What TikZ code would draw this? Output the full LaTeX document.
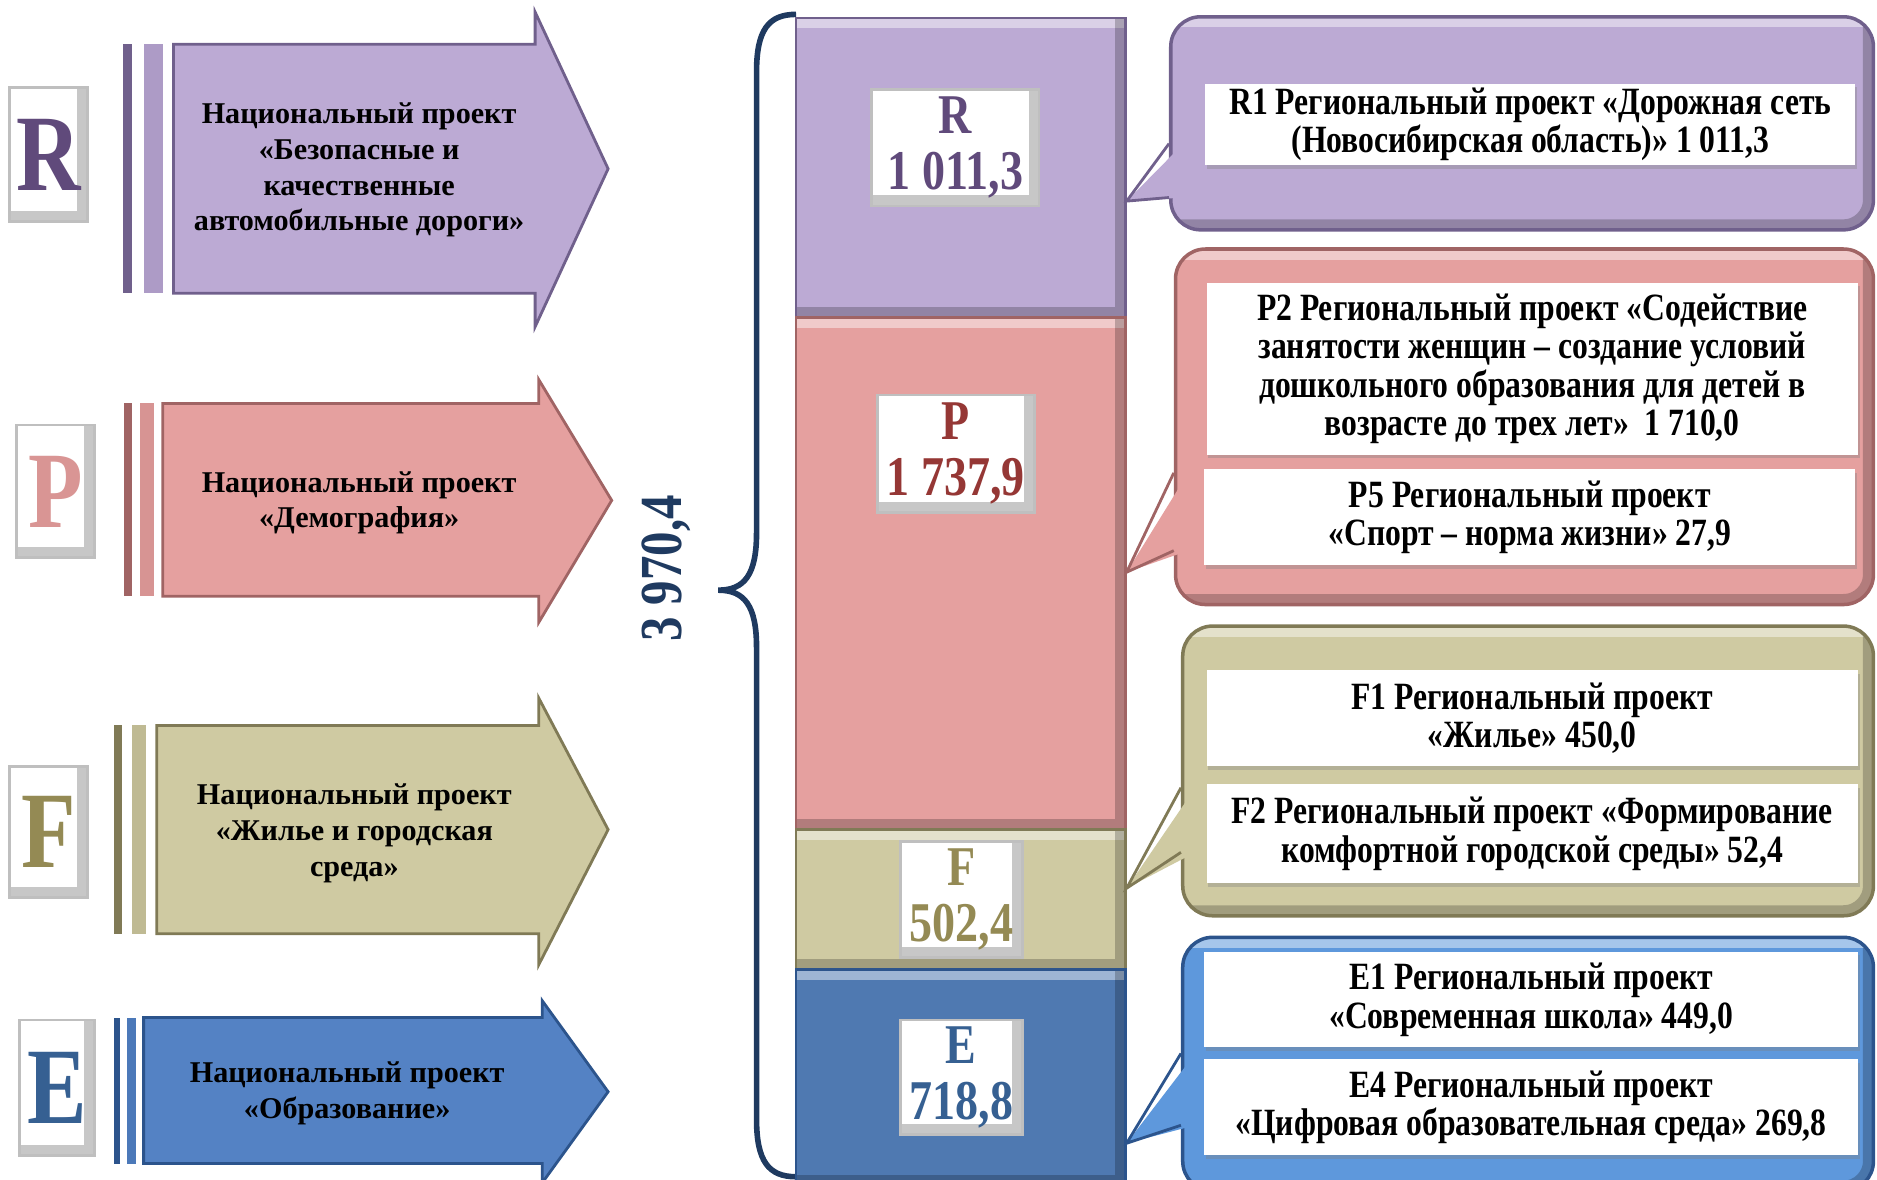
\documentclass[tikz,border=0pt]{standalone}
\usepackage{fontspec}
\setmainfont{Liberation Serif}
\newfontfamily\narrowfont{Liberation Serif}[FakeStretch=0.82]
\usepackage{tikz}
\usetikzlibrary{positioning,fit,shadows,calc}
\definecolor{RFill}{RGB}{188,170,212}
\definecolor{RDark}{RGB}{112,96,140}
\definecolor{RText}{RGB}{96,74,123}
\definecolor{PFill}{RGB}{229,160,159}
\definecolor{PDark}{RGB}{160,100,100}
\definecolor{PText}{RGB}{149,55,53}
\definecolor{PLetter}{RGB}{217,149,148}
\definecolor{FFill}{RGB}{207,202,162}
\definecolor{FDark}{RGB}{128,122,86}
\definecolor{FText}{RGB}{148,138,84}
\definecolor{EFill}{RGB}{84,130,196}
\definecolor{EBar}{RGB}{79,121,177}
\definecolor{ECall}{RGB}{94,152,220}
\definecolor{EDark}{RGB}{44,84,140}
\definecolor{EText}{RGB}{54,96,146}
\definecolor{BraceBlue}{RGB}{31,58,96}

\begin{document}
\begin{tikzpicture}[x=0.012cm, y=-0.012cm,
    bevel/.style={path picture={
        \draw[white, draw opacity=0.45, line width=6pt]
            (path picture bounding box.north west) -- (path picture bounding box.north east);
        \draw[black, draw opacity=0.22, line width=6pt]
            (path picture bounding box.south west) -- (path picture bounding box.south east)
            -- (path picture bounding box.north east);}},
    letterbox/.style={draw=gray!50, fill=white, line width=0.8pt, inner sep=0pt, bevel},
    letter/.style={font=\narrowfont\bfseries\fontsize{31}{31}\selectfont},
    arrowtext/.style={align=center, font=\bfseries\fontsize{8.6}{10.2}\selectfont},
    barpart/.style={line width=0.8pt, inner sep=0pt, bevel},
    barlabel/.style={draw=gray!50, fill=white, line width=0.8pt, inner sep=0pt, bevel},
    bartext/.style={align=center, font=\narrowfont\bfseries\fontsize{16}{16}\selectfont},
    callout/.style={rounded corners=0.3cm, line width=1pt, inner sep=0pt, bevel},
    infobox/.style={fill=white, inner sep=0pt,
                    drop shadow={shadow xshift=0.5pt, shadow yshift=-1pt, opacity=0.35}},
    infotext/.style={align=center, font=\narrowfont\bfseries\fontsize{11}{11}\selectfont},
    pointer/.style={line width=0.8pt}
]
    \useasboundingbox (0,0) rectangle (1568,985);

    % left column: national projects
    \node[letterbox, fit={(8,73) (73,185)}] (rletter) {};
    \node[letter, text=RText] at (rletter) {R};
    \fill[RDark] (103,37) rectangle (110,245);
    \fill[RFill!80!RDark] (120,37) rectangle (136,245);
    \draw[RDark, fill=RFill, line width=0.8pt] (145,37) -- (447,37) -- (447,10) -- (508,141)
        -- (447,273) -- (447,245) -- (145,245) -- cycle;
    \node[arrowtext] (rnat) at (300,142) {Национальный проект\\«Безопасные и\\качественные\\автомобильные дороги»};

    \node[letterbox, fit={(14,355) (79,466)}] (pletter) {};
    \node[letter, text=PLetter] at (pletter) {P};
    \fill[PDark] (104,337) rectangle (110,498);
    \fill[PFill!80!PDark] (117,337) rectangle (129,498);
    \draw[PDark, fill=PFill, line width=0.8pt] (136,337) -- (450,337) -- (450,317) -- (511,418)
        -- (450,520) -- (450,498) -- (136,498) -- cycle;
    \node[arrowtext] (pnat) at (300,420) {Национальный проект\\«Демография»};

    \node[letterbox, fit={(8,640) (73,750)}] (fletter) {};
    \node[letter, text=FText] at (fletter) {F};
    \fill[FDark] (95,606) rectangle (102,780);
    \fill[FFill!80!FDark] (110,606) rectangle (122,780);
    \draw[FDark, fill=FFill, line width=0.8pt] (131,606) -- (450,606) -- (450,583) -- (508,693)
        -- (450,806) -- (450,780) -- (131,780) -- cycle;
    \node[arrowtext] (fnat) at (296,696) {Национальный проект\\«Жилье и городская\\среда»};

    \node[letterbox, fit={(16,852) (79,965)}] (eletter) {};
    \node[letter, text=EText] at (eletter) {E};
    \fill[EDark] (95,850) rectangle (100,972);
    \fill[EFill!80!EDark] (106,850) rectangle (114,972);
    \draw[EDark, fill=EFill, line width=0.8pt] (120,850) -- (453,850) -- (453,836) -- (508,912)
        -- (453,988) -- (453,972) -- (120,972) -- cycle;
    \node[arrowtext] (enat) at (290,913) {Национальный проект\\«Образование»};

    % total and brace
    \draw[BraceBlue, line width=1.6pt] (665,12) .. controls (642,12) and (632,25) .. (632,60)
        -- (632,445) .. controls (632,480) and (622,493) .. (600,493)
        .. controls (622,493) and (632,506) .. (632,541)
        -- (632,935) .. controls (632,970) and (642,983) .. (665,983);
    \node[rotate=90, text=BraceBlue, font=\narrowfont\bfseries\fontsize{17}{17}\selectfont] (total) at (557,475) {3 970,4};

    % stacked bar
    \node[barpart, fill=RFill, draw=RDark, fit={(665,15) (940,265)}] (barR) {};
    \node[barpart, fill=PFill, draw=PDark, fit={(665,265) (940,693)}] (barP) {};
    \node[barpart, fill=FFill, draw=FDark, fit={(665,693) (940,810)}] (barF) {};
    \node[barpart, fill=EBar, draw=EDark, fit={(665,810) (940,990)}] (barE) {};

    \node[barlabel, fit={(728,75) (868,172)}] (rsum) {};
    \node[bartext, text=RText] at (rsum) {R\\1 011,3};
    \node[barlabel, fit={(733,330) (864,428)}] (psum) {};
    \node[bartext, text=PText] at (psum) {P\\1 737,9};
    \node[barlabel, fit={(752,703) (854,800)}] (fsum) {};
    \node[bartext, text=FText] at (fsum) {F\\502,4};
    \node[barlabel, fit={(752,852) (854,948)}] (esum) {};
    \node[bartext, text=EText] at (esum) {E\\718,8};

    % right column: regional projects
    \node[callout, fill=RFill, draw=RDark, fit={(978,14) (1565,192)}] (rcall) {};
    \node[callout, fill=PFill, draw=PDark, fit={(982,208) (1565,505)}] (pcall) {};
    \node[callout, fill=FFill, draw=FDark, fit={(988,523) (1565,765)}] (fcall) {};
    \node[callout, fill=ECall, draw=EDark, fit={(988,783) (1565,995)}] (ecall) {};

    \coordinate (rtip) at (barR.east |- 0,168);
    \coordinate (ptip) at (barP.east |- 0,478);
    \coordinate (ftip) at (barF.east |- 0,742);
    \coordinate (etip) at (barE.east |- 0,955);

    \fill[RFill] ($(rcall.west |- 0,120)+(12,0)$) -- (rtip) -- ($(rcall.west |- 0,165)+(12,0)$) -- cycle;
    \draw[RDark, pointer] (rcall.west |- 0,120) -- (rtip) -- (rcall.west |- 0,165);
    \fill[PFill] ($(pcall.west |- 0,395)+(12,0)$) -- (ptip) -- ($(pcall.west |- 0,460)+(12,0)$) -- cycle;
    \draw[PDark, pointer] (pcall.west |- 0,395) -- (ptip) -- (pcall.west |- 0,460);
    \fill[FFill] ($(fcall.west |- 0,658)+(12,0)$) -- (ftip) -- ($(fcall.west |- 0,712)+(12,0)$) -- cycle;
    \draw[FDark, pointer] (fcall.west |- 0,658) -- (ftip) -- (fcall.west |- 0,712);
    \fill[ECall] ($(ecall.west |- 0,880)+(12,0)$) -- (etip) -- ($(ecall.west |- 0,940)+(12,0)$) -- cycle;
    \draw[EDark, pointer] (ecall.west |- 0,880) -- (etip) -- (ecall.west |- 0,940);

    \node[infobox, fit={(1007,70) (1550,138)}] (r1) {};
    \node[infotext] at (r1) {R1 Региональный проект «Дорожная сеть\\(Новосибирская область)» 1 011,3};
    \node[infobox, fit={(1008,236) (1552,380)}] (p2) {};
    \node[infotext] at (p2) {P2 Региональный проект «Содействие\\занятости женщин – создание условий\\дошкольного образования для детей в\\возрасте до трех лет»~~1 710,0};
    \node[infobox, fit={(1006,392) (1550,472)}] (p5) {};
    \node[infotext] at (p5) {P5 Региональный проект\\«Спорт – норма жизни» 27,9};
    \node[infobox, fit={(1008,560) (1552,640)}] (f1) {};
    \node[infotext] at (f1) {F1 Региональный проект\\«Жилье» 450,0};
    \node[infobox, fit={(1008,655) (1552,738)}] (f2) {};
    \node[infotext] at (f2) {F2 Региональный проект «Формирование\\комфортной городской среды» 52,4};
    \node[infobox, fit={(1006,795) (1552,875)}] (e1) {};
    \node[infotext] at (e1) {E1 Региональный проект\\«Современная школа» 449,0};
    \node[infobox, fit={(1006,885) (1552,965)}] (e4) {};
    \node[infotext] at (e4) {E4 Региональный проект\\«Цифровая образовательная среда» 269,8};
\end{tikzpicture}
\end{document}
